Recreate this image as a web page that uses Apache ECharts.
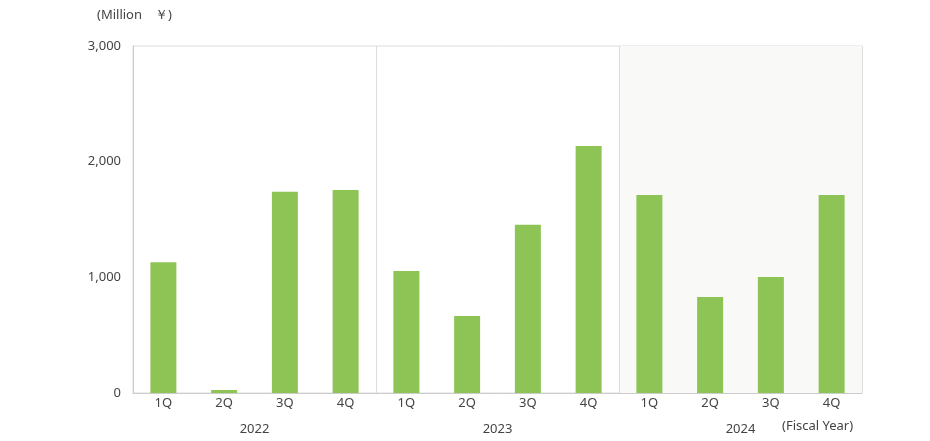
<!DOCTYPE html>
<html><head><meta charset="utf-8">
<script src="https://cdn.jsdelivr.net/npm/echarts@6/dist/echarts.min.js"></script>
<style>html,body{margin:0;padding:0;background:#fff}#c{width:930px;height:441px}</style>
</head><body><div id="c"></div>
<script>
const quarters = ['1Q','2Q','3Q','4Q','1Q','2Q','3Q','4Q','1Q','2Q','3Q','4Q'];
const years = ['2022','2023','2024'];
const values = [1130, 26, 1740, 1755, 1055, 666, 1455, 2135, 1712, 830, 1003, 1712];
const yTicks = [0, 1000, 2000, 3000];
const chart = echarts.init(document.getElementById('c'));
const font = {fontFamily:'Noto Sans', fontSize:13, color:'#444'};
chart.setOption({
  animation:false,
  grid:{left:133, right:68, top:46, bottom:48, show:true, borderColor:'#ddd', borderWidth:1},
  xAxis:[
    {type:'category', data:quarters.map((q,i)=>i), axisLine:{lineStyle:{color:'#ccc'}}, axisTick:{show:false},
     axisLabel:Object.assign({margin:4, formatter:(v)=>quarters[+v]}, font)},
    {type:'category', data:years, position:'bottom', axisLine:{show:false}, axisTick:{show:false},
     axisLabel:Object.assign({margin:30}, font),
     splitLine:{show:true, lineStyle:{color:'#ddd'}},
     splitArea:{show:true, areaStyle:{color:['rgba(0,0,0,0)','rgba(0,0,0,0)','#f9f9f7']}}}
  ],
  yAxis:{type:'value', min:0, max:3000, interval:1000, axisLine:{show:true, lineStyle:{color:'#ccc'}},
    splitLine:{show:false}, axisTick:{show:false},
    axisLabel:Object.assign({margin:12, formatter:(v)=>yTicks.includes(v)?v.toLocaleString('en-US'):''}, font)},
  series:[{type:'bar', data:values, barWidth:26, itemStyle:{color:'#8dc455'}}],
  graphic:[
    {type:'text', left:97, top:9, style:Object.assign({text:'(Million　￥)'}, {font:'13px "Noto Sans"', fill:'#444'})},
    {type:'text', left:782, top:420, style:{text:'(Fiscal Year)', font:'13px "Noto Sans"', fill:'#444'}}
  ]
});
</script></body></html>
